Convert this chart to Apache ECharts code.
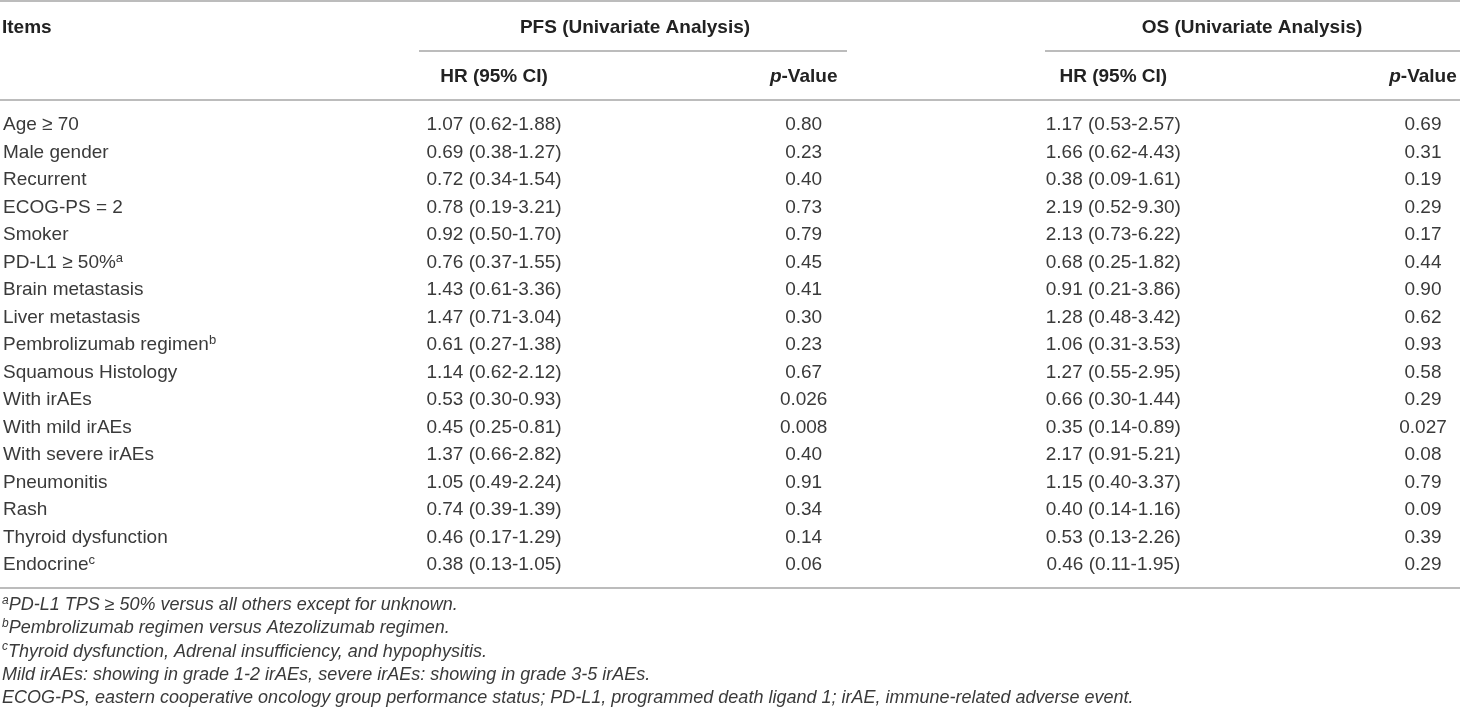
<!DOCTYPE html>
<html>
<head>
<meta charset="utf-8">
<title>Univariate analysis</title>
<script src="https://cdn.jsdelivr.net/npm/echarts@6/dist/echarts.min.js"></script>
<style>
  html, body { margin: 0; padding: 0; background: #fff; }
  #chart { width: 1460px; height: 724px; }
</style>
</head>
<body>
<div id="chart"></div>
<script>
// row labels ({sup|x} marks superscripts)
const items = [
  'Age ≥ 70', 'Male gender', 'Recurrent', 'ECOG-PS = 2', 'Smoker',
  'PD-L1 ≥ 50%{sup|a}', 'Brain metastasis', 'Liver metastasis',
  'Pembrolizumab regimen{sup|b}', 'Squamous Histology', 'With irAEs',
  'With mild irAEs', 'With severe irAEs', 'Pneumonitis', 'Rash',
  'Thyroid dysfunction', 'Endocrine{sup|c}'
]
const columns = ['HR (95% CI)', '{it|p}-Value', 'HR (95% CI)', '{it|p}-Value']
const groups = ['PFS (Univariate Analysis)', 'OS (Univariate Analysis)']

const pfsHr = [
  '1.07 (0.62-1.88)', '0.69 (0.38-1.27)', '0.72 (0.34-1.54)', '0.78 (0.19-3.21)',
  '0.92 (0.50-1.70)', '0.76 (0.37-1.55)', '1.43 (0.61-3.36)', '1.47 (0.71-3.04)',
  '0.61 (0.27-1.38)', '1.14 (0.62-2.12)', '0.53 (0.30-0.93)', '0.45 (0.25-0.81)',
  '1.37 (0.66-2.82)', '1.05 (0.49-2.24)', '0.74 (0.39-1.39)', '0.46 (0.17-1.29)',
  '0.38 (0.13-1.05)'
]
const pfsP = [
  '0.80', '0.23', '0.40', '0.73', '0.79', '0.45', '0.41', '0.30', '0.23',
  '0.67', '0.026', '0.008', '0.40', '0.91', '0.34', '0.14', '0.06'
]
const osHr = [
  '1.17 (0.53-2.57)', '1.66 (0.62-4.43)', '0.38 (0.09-1.61)', '2.19 (0.52-9.30)',
  '2.13 (0.73-6.22)', '0.68 (0.25-1.82)', '0.91 (0.21-3.86)', '1.28 (0.48-3.42)',
  '1.06 (0.31-3.53)', '1.27 (0.55-2.95)', '0.66 (0.30-1.44)', '0.35 (0.14-0.89)',
  '2.17 (0.91-5.21)', '1.15 (0.40-3.37)', '0.40 (0.14-1.16)', '0.53 (0.13-2.26)',
  '0.46 (0.11-1.95)'
]
const osP = [
  '0.69', '0.31', '0.19', '0.29', '0.17', '0.44', '0.90', '0.62', '0.93',
  '0.58', '0.29', '0.027', '0.08', '0.79', '0.09', '0.39', '0.29'
]
const footnotes = [
  '{sup|a}PD-L1 TPS ≥ 50% versus all others except for unknown.',
  '{sup|b}Pembrolizumab regimen versus Atezolizumab regimen.',
  '{sup|c}Thyroid dysfunction, Adrenal insufficiency, and hypophysitis.',
  'Mild irAEs: showing in grade 1-2 irAEs, severe irAEs: showing in grade 3-5 irAEs.',
  'ECOG-PS, eastern cooperative oncology group performance status; PD-L1, programmed death ligand 1; irAE, immune-related adverse event.'
]

const FONT = '"Liberation Sans", Arial, Helvetica, sans-serif'
const TEXT = '#3a3a3a'
const HEAD = '#222'
const RULE = '#a6a6a6'

const valueCols = [pfsHr, pfsP, osHr, osP]
const cells = []
valueCols.forEach((col, c) => {
  col.forEach((v, r) => cells.push([c, r, v]))
})

const chart = echarts.init(document.getElementById('chart'))

const rule = (x1, x2, y) => ({
  type: 'line',
  shape: { x1, y1: y, x2, y2: y },
  style: { stroke: RULE, lineWidth: 1.5 },
  silent: true
})

const headText = (text, x, y, align) => ({
  type: 'text',
  x, y,
  style: {
    text, fill: HEAD, font: 'bold 19px ' + FONT,
    align, verticalAlign: 'middle'
  },
  silent: true
})

chart.setOption({
  animation: false,
  backgroundColor: '#fff',
  // column centres sit on the category points (boundaryGap off)
  grid: { left: 493, right: 37, top: 111.25, bottom: 145.25 },
  xAxis: {
    type: 'category',
    position: 'top',
    boundaryGap: false,
    data: columns,
    axisLine: { show: false },
    axisTick: { show: false },
    splitLine: { show: false },
    axisLabel: {
      interval: 0,
      margin: 34,
      verticalAlign: 'middle',
      color: HEAD,
      fontFamily: FONT,
      fontSize: 19,
      fontWeight: 'bold',
      rich: {
        it: { fontStyle: 'italic', fontWeight: 'bold', fontSize: 19, fontFamily: FONT, color: HEAD }
      }
    }
  },
  yAxis: {
    type: 'category',
    inverse: true,
    data: items,
    axisLine: { show: false },
    axisTick: { show: false },
    splitLine: { show: false },
    axisLabel: {
      interval: 0,
      align: 'left',
      margin: 491,
      color: TEXT,
      fontFamily: FONT,
      fontSize: 19,
      lineHeight: 22,
      rich: {
        sup: { fontSize: 13, lineHeight: 13, verticalAlign: 'top', color: TEXT, fontFamily: FONT }
      }
    }
  },
  series: [{
    type: 'custom',
    data: cells,
    silent: true,
    clip: false,
    encode: { x: 0, y: 1 },
    renderItem: (params, api) => {
      const p = api.coord([api.value(0), api.value(1)])
      return {
        type: 'text',
        x: p[0],
        y: p[1],
        style: {
          text: cells[params.dataIndex][2],
          fill: TEXT,
          font: '19px ' + FONT,
          align: 'center',
          verticalAlign: 'middle'
        }
      }
    }
  }],
  graphic: [
    rule(0, 1460, 1),
    rule(419, 847, 51),
    rule(1045, 1460, 51),
    rule(0, 1460, 100),
    rule(0, 1460, 588),
    headText('Items', 2, 28, 'left'),
    headText(groups[0], 635, 28, 'center'),
    headText(groups[1], 1252, 28, 'center'),
    ...footnotes.map((t, i) => ({
      type: 'text',
      x: 2,
      y: 605 + i * 23.3,
      style: {
        text: t,
        fill: TEXT,
        font: 'italic 18px ' + FONT,
        verticalAlign: 'middle',
        lineHeight: 21,
        rich: {
          sup: { fontSize: 12, lineHeight: 12, verticalAlign: 'top', fill: TEXT, fontStyle: 'italic', fontFamily: FONT }
        }
      },
      silent: true
    }))
  ]
})
</script>
</body>
</html>
